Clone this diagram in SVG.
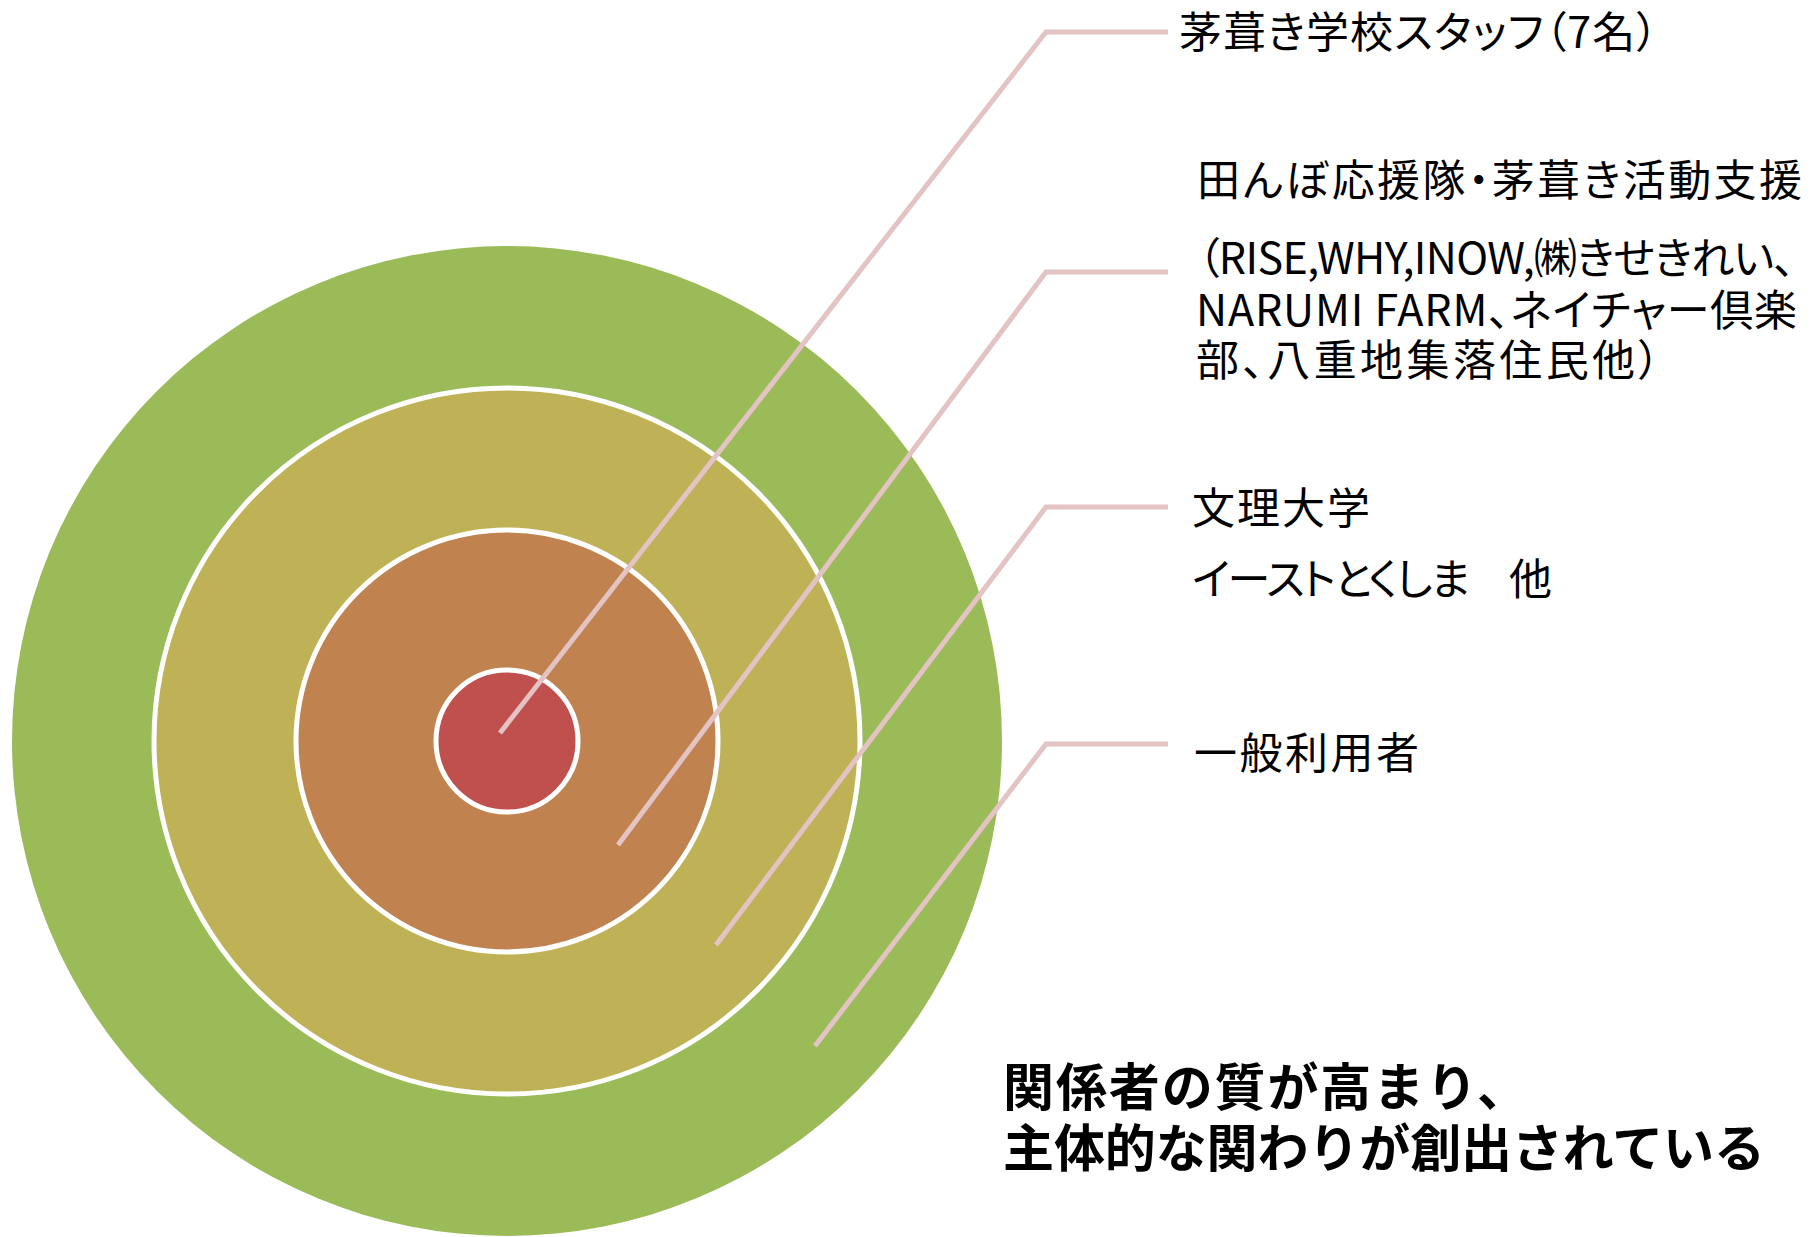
<svg xmlns="http://www.w3.org/2000/svg" width="1812" height="1237" viewBox="0 0 1812 1237">
<style>
.ring{stroke:#FFFFFF;stroke-width:5}
.conn{fill:none;stroke:#E3C3C3;stroke-width:5}
.lbl{font-family:"Noto Sans CJK JP","Noto Sans",sans-serif;font-size:43px;fill:#000000;font-feature-settings:"palt"}
.big{font-family:"Noto Sans CJK JP","Noto Sans",sans-serif;font-size:51px;font-weight:bold;fill:#000000}
</style>
<rect x="0" y="0" width="1812" height="1237" fill="#FFFFFF"/>
<g id="circle-outer"><circle cx="507" cy="741" r="495" fill="#9BBB59"/></g>
<g id="circle-third"><circle class="ring" cx="507" cy="741" r="353" fill="#BFB256"/></g>
<g id="circle-second"><circle class="ring" cx="507" cy="741" r="211" fill="#C08350"/></g>
<g id="circle-core"><circle class="ring" cx="507" cy="741" r="71" fill="#C0504D"/></g>
<g id="connectors">
<polyline class="conn" points="500,733 1046,32 1168,32"/>
<polyline class="conn" points="618,845 1046,272 1168,272"/>
<polyline class="conn" points="716,945 1046,507 1168,507"/>
<polyline class="conn" points="815,1046 1046,744 1168,744"/>
</g>
<g id="label-staff"><text class="lbl" x="1179" y="48" textLength="479" lengthAdjust="spacing">茅葺き学校スタッフ（7名）</text></g>
<g id="label-support">
<text class="lbl" x="1197" y="196" textLength="605" lengthAdjust="spacing">田んぼ応援隊・茅葺き活動支援</text>
<text class="lbl"><tspan x="1198" y="274" textLength="597" lengthAdjust="spacing">（RISE,WHY,INOW,㈱きせきれい、</tspan><tspan x="1196" y="326" textLength="601" lengthAdjust="spacing">NARUMI FARM、ネイチャー倶楽</tspan><tspan x="1196" y="376" textLength="464" lengthAdjust="spacing">部、八重地集落住民他）</tspan></text>
</g>
<g id="label-university">
<text class="lbl" x="1192" y="524" textLength="178" lengthAdjust="spacing">文理大学</text>
<text class="lbl" x="1192" y="595" textLength="360" lengthAdjust="spacing">イーストとくしま　他</text>
</g>
<g id="label-general"><text class="lbl" x="1194" y="769" textLength="225" lengthAdjust="spacing">一般利用者</text></g>
<g id="summary">
<text class="big"><tspan x="1003" y="1106" textLength="525" lengthAdjust="spacing">関係者の質が高まり、</tspan><tspan x="1003" y="1167" textLength="762" lengthAdjust="spacing">主体的な関わりが創出されている</tspan></text>
</g>
</svg>
